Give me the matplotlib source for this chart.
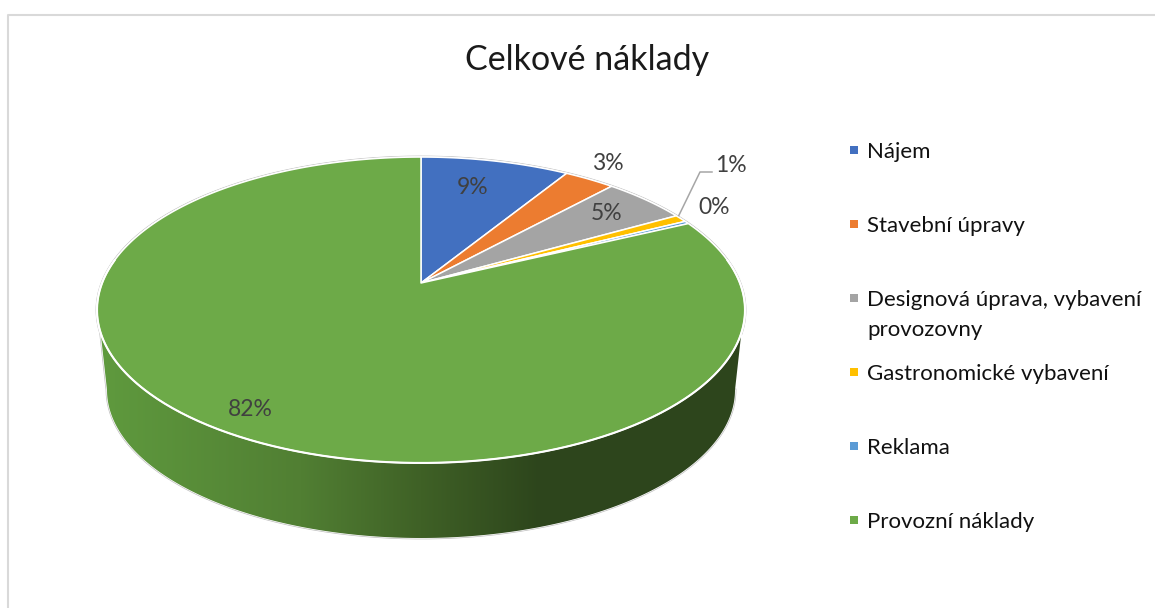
import matplotlib
matplotlib.use("Agg")
import matplotlib.pyplot as plt
import numpy as np
from matplotlib.colors import to_rgb
from matplotlib.patches import PathPatch
from matplotlib.path import Path

plt.rcParams['font.family'] = ['Lato', 'DejaVu Sans']

# Cost shares in percent
categories = ["Nájem", "Stavební úpravy", "Designová úprava, vybavení\nprovozovny",
              "Gastronomické vybavení", "Reklama", "Provozní náklady"]
shares = [8.8, 3.0, 5.0, 0.8, 0.3, 82.1]
colors = ["#4270C0", "#EC7C30", "#A4A4A4", "#FFC000", "#5B9BD5", "#6DAA48"]

# Where each percent label sits
label_x = [473, 608, 607, 731, 714, 250]
label_y = [187, 163, 214, 165, 208, 409]

# Side wall shading, left to right
side_x = [100, 300, 420, 540, 745]
side_colors = ["#5F9A3E", "#517F33", "#3F6126", "#2D451C", "#2D451C"]

# Disc geometry in pixels, with a simple perspective on the top face
CX, CY = 421, 283
A, B, K = 318.9, 148.2, 0.1765
TOP_CY, TOP_A, TOP_B = 310, 324, 153
LOW_CY, LOW_A, LOW_B = 390, 314, 148


def project(theta):
    # theta runs clockwise from twelve o'clock on the unit disc
    w = 1 + K * np.cos(theta)
    return CX + A * np.sin(theta) / w, CY - B * np.cos(theta) / w


fig = plt.figure(figsize=(11.55, 6.08), dpi=100)
ax = fig.add_axes([0, 0, 1, 1])

# Outline of the whole cylinder, used to clip the side shading
phi_top = np.radians(np.linspace(-8.6, 188.6, 300))
phi_low = np.radians(np.linspace(180, 360, 300))
hull_x = np.r_[CX + TOP_A * np.cos(phi_top), CX + LOW_A * np.cos(phi_low)]
hull_y = np.r_[TOP_CY - TOP_B * np.sin(phi_top), LOW_CY - LOW_B * np.sin(phi_low)]
hull = Path(np.c_[np.r_[hull_x, hull_x[0]], np.r_[hull_y, hull_y[0]]], closed=True)

ramp_x = np.arange(90, 756)
rgb = np.array([to_rgb(c) for c in side_colors])
ramp = np.stack([np.interp(ramp_x, side_x, rgb[:, i]) for i in range(3)], axis=1)[None, :, :]
img = ax.imshow(ramp, extent=(90, 756, 550, 300), aspect='auto', zorder=1)
patch = PathPatch(hull, transform=ax.transData, fc='none', ec='none')
ax.add_patch(patch)
img.set_clip_path(patch)

ax.plot(hull_x, hull_y, color="#BFBFBF", lw=2.0, zorder=0.5)
ax.plot(hull_x, hull_y, color="white", lw=1.0, zorder=0.6)

# Top face slices
edges = np.r_[0, np.cumsum(shares)] / 100 * 2 * np.pi
for start, end, color in zip(edges[:-1], edges[1:], colors):
    t = np.linspace(start, end, 400)
    x, y = project(t)
    ax.fill(np.r_[CX, x], np.r_[CY, y], fc=color, ec="white", lw=1.1, zorder=2, joinstyle='round')

# Heavier white rim along the front of the top face
rim = np.linspace(np.pi * 0.45, np.pi * 1.55, 300)
ax.plot(*project(rim), color="white", lw=1.5, zorder=2.5)

for v, x, y in zip(shares, label_x, label_y):
    ax.text(x, y, f"{v:.0f}%", fontsize=16.5, color="#404040", ha='center', va='center', zorder=4)

# Leader line for the thin yellow slice
mid = (edges[3] + edges[4]) / 2
lx, ly = project(mid)
ax.plot([lx - 2, 700, 712], [ly - 3, 172, 172], color="#A6A6A6", lw=1.1, zorder=3)

ax.text(587, 60, "Celkové náklady", fontsize=24.5, color="#1A1A1A", ha='center', va='center')

# Legend
for i, (name, color) in enumerate(zip(categories, colors)):
    y = 150 + i * 74
    ax.scatter([854], [y], marker='s', s=30, color=color, linewidths=0, zorder=3)
    for j, line in enumerate(name.split("\n")):
        ax.text(867, y + j * 30, line, fontsize=16, color="#111111", ha='left', va='center_baseline')

# Chart border, only the left and top sides fall inside the image
ax.plot([7.5, 7.5, 1155], [608, 14.5, 14.5], color="#D9D9D9", lw=1.5, zorder=5)

ax.set_xlim(0, 1155)
ax.set_ylim(608, 0)
ax.axis('off')

fig.savefig("out.png", dpi=100)
